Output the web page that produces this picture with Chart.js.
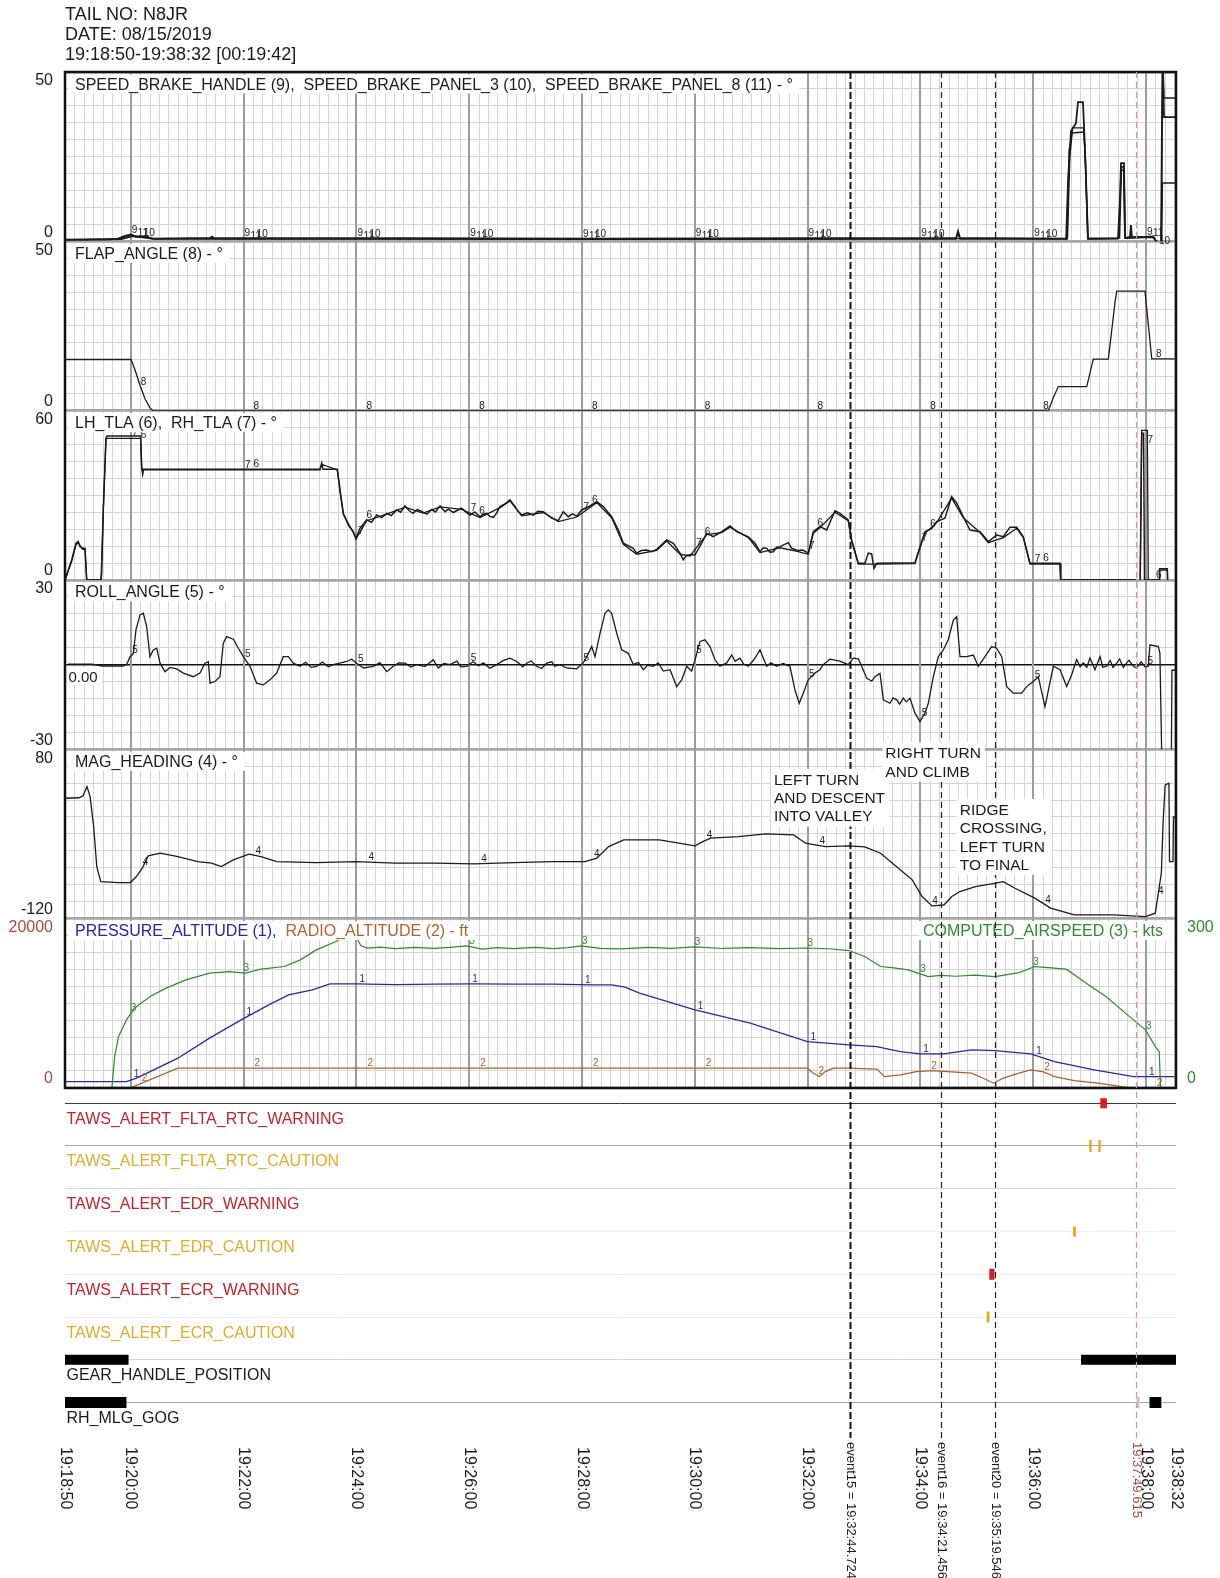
<!DOCTYPE html>
<html>
<head>
<meta charset="utf-8">
<title>N8JR flight data 08/15/2019</title>
<script src="https://cdn.jsdelivr.net/npm/chart.js@4.4.1/dist/chart.umd.min.js"></script>
<style>
  html, body { margin: 0; padding: 0; background: #fff; }
  #wrap { position: relative; width: 1220px; height: 1578px; }
  #fdr { position: absolute; left: 0; top: 0; }
  #head { position: absolute; left: 65px; top: 4px; font: 18px/20px "Liberation Sans", Arial, sans-serif; color: #1b1b1b; }
</style>
</head>
<body>
<div id="wrap">
  <canvas id="fdr" width="1220" height="1578"></canvas>
  <div id="head">TAIL NO: N8JR<br>DATE: 08/15/2019<br>19:18:50-19:38:32 [00:19:42]</div>
</div>
<script>
// seconds after 19:18:50
const spanSec = 1182;
const tickSec = [0, 70, 190, 310, 430, 550, 670, 790, 910, 1030, 1150, 1182];
const tickText = ['19:18:50', '19:20:00', '19:22:00', '19:24:00', '19:26:00', '19:28:00', '19:30:00',
  '19:32:00', '19:34:00', '19:36:00', '19:38:00', '19:38:32'];
const majorSec = tickSec.slice(1, -1);

const eventSec = [834.724, 931.456, 989.546, 1139.615];
const eventText = ['event15 = 19:32:44.724', 'event16 = 19:34:21.456', 'event20 = 19:35:19.546', '19:37:49.615'];

// [seconds, value]
const sbHandle = [[0,0.5],[47.9,0.6],[56.4,0.8],[63.8,1.6],[70.2,2.0],[75.5,1.3],[87.2,1.4],[92.6,0.8],[154.3,1.0],
  [156.4,1.4],[158.5,0.9],[356.4,0.9],[569.2,0.8],[782,0.9],[948,1.0],[950.1,3.0],[952.2,1.0],[1065.1,0.8],
  [1067.2,18.1],[1070.3,32.6],[1075.6,34.9],[1077.7,41.1],[1083,41.1],[1084.1,34.3],[1086.3,18.1],[1088.4,0.7],
  [1120.3,0.8],[1122.4,12.2],[1123.5,23.1],[1126.7,23.1],[1127.8,1.0],[1133,1.3],[1134.1,4.8],[1135.1,1.3],
  [1157.5,1.3],[1162.8,-0.5],[1166,-1.7],[1167.1,35.8],[1168.1,53.5],[1169.2,36.7],[1182,36.7]];
const sbPanel3 = [[0,0.4],[60,0.6],[72,1.5],[95,0.7],[300,0.7],[600,0.6],[948,0.7],[950,2.5],[952,0.7],
  [1066.1,0.7],[1068.3,27],[1071.4,32],[1084.1,32.3],[1085.2,27],[1088.4,0.7],[1121,0.9],[1123.5,21],
  [1126.7,21],[1128,0.9],[1158,1.2],[1162.8,-1.1],[1166.5,-2.6],[1167.6,17.2],[1182,17.2]];
const sbPanel8 = [[0,0.5],[60,0.8],[70,1.8],[95,0.8],[300,0.8],[600,0.7],[948,0.8],[1066.6,0.8],[1069,25],
  [1072,33.5],[1083.6,33.5],[1085.5,25],[1088,0.9],[1122,1],[1124,22],[1126.2,22],[1127.5,1],[1158,1.5],
  [1163,-1.5],[1166.5,-3],[1167.5,53],[1169.2,42.3],[1182,42.3]];

const flapAngle = [[0,15.1],[70.2,15.1],[74.5,12],[79.8,7.5],[85.1,3.5],[90.4,0.8],[93.6,0],[1046.2,0],
  [1051.5,3.9],[1056.8,7.1],[1087,7.1],[1094,15.2],[1110,15.2],[1112.9,22],[1117.1,32],[1119,35.3],
  [1149,35.3],[1156.2,15.3],[1182,15.3]];

const lhTla = [[0,0],[3.5,3.5],[7.1,7.1],[11.7,13],[14.1,13.6],[16,11.8],[18.8,11.2],[21.3,11.2],[23.1,0],
  [38.3,0],[39,2],[40.7,24.8],[43.6,50.2],[44.7,51],[80.5,51],[81.6,39.6],[82.7,37.5],[83.5,39.2],[271.3,39.2],
  [273.1,41.4],[274.5,39.2],[289.7,39.2],[292.6,31.9],[296.1,23.6],[301.4,19.5],[306.7,17.1],[309.6,14.8],
  [313.8,18.3],[321,21.3],[326,20.4],[331.6,23],[337,22.1],[342.3,23.6],[347,22.8],[352.9,24.8],[357,24],
  [361.7,26.2],[366,24.6],[370.2,23.6],[375,25],[380.9,24],[385,23.3],[390.1,25],[394,24.1],[399,26.2],
  [404.3,24.2],[408,25.1],[413.1,23.9],[417,24.6],[422,25.4],[426,24.2],[430.9,23],[436,24.1],[441.5,22.4],
  [445,23.2],[448.7,23.6],[452,22.5],[455.7,22.2],[459,23.6],[462.8,26],[468,26.9],[473.4,28.4],[478.8,26],
  [482,24.3],[485.9,23],[492,23.8],[498.2,23],[503,24.3],[508.9,24.2],[513,23.1],[517.8,21.9],[524.8,21],
  [530.1,24.2],[535.5,22.4],[540,23.4],[544.4,22.6],[549.7,24.8],[558.5,26.2],[565.7,27.7],[572.7,26],[581.6,22.4],
  [588.7,17.7],[594,13],[604.6,11.2],[608.2,9.5],[613,10.4],[618.9,10.6],[624,10],[629.5,10.8],[640.1,14.2],
  [647.2,13],[654.3,9.5],[657.8,7.1],[661,8.6],[664.9,8.9],[670.3,8.9],[677.4,13],[682.7,16.5],[689.7,15.3],
  [698.7,17.1],[707.5,19.1],[714.6,17.1],[727,15.3],[734.1,13],[739.4,10],[743,11.4],[746.5,11.2],[750,9.8],
  [753.6,10],[757,11.6],[760.7,11.8],[769.5,13.2],[773.1,11.2],[780.1,10.4],[785,10.6],[790.8,9.5],
  [796.1,17.1],[803.2,18.9],[810.4,17.7],[819.2,24.5],[824.5,23.6],[833.3,21.3],[836.9,14.2],[844,5.9],
  [851.1,5.9],[854.6,9.5],[858.2,9.2],[860.7,4.1],[863.6,5.9],[904.3,6.1],[909.6,11.8],[914.9,17.1],
  [922.1,18.3],[927.4,20.7],[936.2,21.9],[943.3,29.5],[948.7,27.2],[955.7,22.4],[962.8,17.7],[973.5,17.1],
  [982.3,13.6],[991.3,15.9],[998.3,15.3],[1005.4,18.7],[1012.5,18.7],[1019.5,15.3],[1026.7,5.9],[1058.6,5.9],
  [1059.3,0],[1138.4,0],[1140.2,-7.7],[1143.7,-7.7],[1145.5,52],[1147.5,52],[1148.5,0],[1164,0],[1164.5,3.5],
  [1172.8,3.5],[1173.6,-7.7],[1182,-7.7]];
const rhTla = [[0,0],[7.1,6.5],[11.7,12.5],[14.1,13.2],[18.8,10.8],[21.3,10.8],[23.1,0],[38.3,0],[40.7,24],
  [43.6,50.2],[80.5,50.2],[81.6,39.4],[83.5,39],[271.3,39],[273.1,41],[289.7,39],[292.6,31.5],[296.1,23.2],
  [306.7,16.8],[309.6,14.5],[321,21],[342.3,23.3],[361.7,25.8],[380.9,23.7],[399,25.9],[422,25],[441.5,22.1],
  [462.8,25.6],[473.4,28],[485.9,22.7],[508.9,23.9],[524.8,20.7],[544.4,22.3],[565.7,27.4],[581.6,22],
  [594,12.6],[608.2,9.1],[629.5,10.5],[640.1,13.8],[654.3,9.1],[664.9,8.5],[682.7,16.1],[698.7,16.8],
  [707.5,18.7],[727,15],[739.4,9.7],[760.7,11.4],[780.1,10],[790.8,9.1],[796.1,16.5],[803.2,18.5],[819.2,24],
  [833.3,21],[836.9,13.8],[844,5.6],[863.6,5.6],[904.3,5.8],[909.6,11.3],[914.9,16.5],[927.4,20.3],[943.3,29],
  [955.7,22],[973.5,16.8],[982.3,13.2],[998.3,15],[1012.5,18.3],[1019.5,15],[1026.7,5.6],[1058.6,5.6],
  [1059.3,0],[1138.4,0],[1140.2,-7.7],[1143.7,-7.7],[1145.5,53],[1151.5,53],[1152.5,0],[1164,0],[1164.5,4],
  [1172.8,4],[1173.6,-7.7],[1182,-7.7]];

const rollAngle = [[3.2,0.2],[28.7,0.2],[39.4,-0.5],[61.7,-0.5],[65.6,0],[69.2,2.8],[72.7,3.9],[75.5,12.3],
  [79.8,17.6],[83.3,18.2],[86.9,13.5],[90.4,2.8],[93.9,5.2],[97.6,5.8],[101.1,0.5],[106.4,-2.5],[111.7,-1],
  [118.8,-1.5],[125.9,-3],[136.5,-4.3],[143.6,-3],[148.9,0.5],[152.5,1],[154.3,-6.6],[159.6,-6],[164.9,-4.3],
  [168.4,7.6],[172,9.9],[179.1,9],[184.4,5.8],[189.7,2.8],[196.8,-0.6],[203.9,-6.6],[211,-7.2],[218.1,-5.4],
  [225.2,-3],[232.2,2.8],[237.6,2.8],[242.9,0.5],[250,-0.6],[256,0.8],[262,-1],[267.8,-0.6],[274,0.9],
  [280,-0.8],[285.4,0],[299.7,1.1],[305,1.9],[310.3,0.5],[317.4,-1.2],[328,-0.6],[335,0.7],[342.3,-2.5],
  [349.3,-0.6],[355,0.6],[361.7,0.5],[368,-0.9],[374.2,0],[383,-0.7],[391.8,1.7],[397.2,-1.2],[403,0.4],
  [409.6,0],[417,1.2],[421,-0.8],[427.4,-0.6],[434,1],[440,-0.4],[445,0.6],[452,-1.3],[459.3,0],[466,1.4],
  [473.4,2.3],[480.6,1.1],[487,-0.8],[491.2,0.5],[496,1.3],[501.8,-0.6],[507,-1.4],[512.5,0.5],[518,1],
  [521,-0.6],[526.6,0],[533.8,-1.2],[544.4,-1.5],[551.4,0.6],[556.7,3.9],[560.4,6.4],[563.9,2.8],
  [569.2,11.1],[574.5,18.2],[578,19.4],[581.6,18.2],[587,11.1],[592.3,5.2],[599.3,4],[604.6,0],[610,0.8],
  [615.3,-1.8],[620,-0.2],[625.9,-0.6],[631.2,0.6],[636.5,-2.3],[643.7,-1.8],[650.8,-7.8],[656.1,-5.4],
  [661.4,-0.6],[666.7,-2.3],[670.3,1.7],[675.6,8.2],[680.9,8.8],[686.2,6.4],[691.5,1.7],[696.8,-0.6],
  [704,0.6],[709.3,3.4],[713,1.2],[718.1,2.3],[722,0.2],[727,-0.6],[733,1.8],[739.4,5.2],[746.5,-0.6],
  [751,0.6],[757.2,-0.6],[764,0.4],[771.3,-0.6],[776.6,-9],[781.2,-13.7],[785.5,-10.1],[790.8,-5.4],
  [797.9,-3],[803.2,-1.8],[806.7,0],[813.9,1.9],[824.5,1.2],[833.3,0],[838.7,2.3],[844,2],[847.6,-0.6],
  [852.9,-4.8],[858.3,-5.9],[862,-4.2],[867.1,-3.1],[870.6,-12.5],[877.7,-13.7],[881,-11.8],[884.9,-12.5],
  [888,-14],[891.9,-11.9],[895,-13.2],[899,-11.9],[904.3,-17.2],[909.6,-20.2],[914.9,-17.2],[918.5,-13.7],
  [923.8,-4.3],[929.1,2.8],[934.4,5.2],[939.7,8.8],[945.1,15.8],[948.7,17],[952.2,2.8],[959.3,2.8],
  [966.3,3.4],[971.7,-0.6],[978.8,2.8],[985.9,6.4],[991.2,5.8],[996.6,2.8],[1001.9,-7.8],[1008.9,-10.1],
  [1017.8,-10.1],[1023.1,-7.8],[1030.2,-6],[1035.5,-4.3],[1042.6,-14.9],[1051.5,-0.6],[1058.6,-1.8],
  [1065.7,-7.8],[1071,-3.6],[1076.3,1.8],[1080,-0.8],[1083.4,0.6],[1087,-1],[1090.5,2.3],[1095.8,-1.8],
  [1101.2,2.8],[1104,-0.9],[1108.3,-0.6],[1112,1.5],[1115,-1],[1118.9,0.5],[1122,2],[1126,-1],[1129.5,0.6],
  [1132,1.5],[1136.6,-0.6],[1140,-1.2],[1145,1],[1149,-0.8],[1152.5,-0.6],[1154.3,7],[1163.2,6.4],
  [1164.9,4],[1166.7,-30],[1168.1,-56],[1176.6,-56],[1177.7,-2],[1182,-2]];

const magHeading = [[0,22.1],[14.9,22.7],[19.1,24.9],[23.4,35.9],[26.7,24],[30.5,-11.4],[33.8,-58.6],
  [38.1,-76.3],[57,-77.5],[69.6,-77.5],[76,-70.4],[82.2,-60.5],[88.5,-46],[101.2,-42.8],[120.1,-46.8],
  [141.1,-52.7],[155.9,-54.6],[166.3,-58.6],[179,-50.7],[195.8,-44],[208.4,-46.8],[225.2,-52.7],
  [267.3,-53.9],[309.3,-52.7],[351.4,-54.6],[393.4,-54.6],[435.5,-55.4],[477.5,-53.9],[519.6,-52.7],
  [553.2,-52.7],[565.8,-48.7],[578.4,-35],[590.3,-29.1],[594.4,-27.1],[632.3,-27.1],[653.2,-31],
  [670.2,-34.2],[678.6,-29.1],[687,-25.1],[716.3,-23.2],[745.8,-20],[775.3,-21.2],[787.8,-31],[808.9,-35],
  [834.1,-34.2],[850.9,-35.4],[867.7,-42.8],[884.5,-58.6],[901.4,-74.3],[911.9,-94],[922.4,-105],
  [935.1,-104],[943.5,-94],[951.9,-88.1],[968.7,-82.2],[985.5,-79.1],[998.2,-76.3],[1010.7,-84.2],
  [1031.8,-95.9],[1048.6,-107.7],[1073.8,-115.6],[1115.8,-115.6],[1149.5,-117.6],[1160,-113.6],
  [1162.1,-97.9],[1166.4,-66.4],[1168.4,-3.5],[1170.5,37.9],[1174.5,39.9],[1175.1,-52.7],[1178.8,-52.7],
  [1179.3,0],[1182,0]];

const pressureAlt = [[0,744],[65.4,744],[76,1146],[90.6,1925],[120.1,3508],[153.7,5871],[187.4,8033],
  [216.8,9805],[237.8,10986],[263.1,11577],[281.9,12286],[309.3,12286],[351.4,12208],[393.4,12247],
  [435.5,12286],[477.5,12247],[519.6,12247],[561.6,12168],[581.9,12168],[595.8,11900],[611.2,11187],
  [670.2,9214],[729,7643],[789.9,5469],[834.1,5080],[863.6,4883],[888.8,4289],[909.8,4016],[935.1,4016],
  [964.4,4489],[989.7,4410],[1027.5,4016],[1052.7,3107],[1094.9,2126],[1136.9,1335],[1182,1335]];
const radioAlt = [[0,0],[69.6,0],[120.1,2327],[789.9,2327],[796.2,1736],[802.6,1335],[808.9,1925],
  [817.3,2327],[834.1,2327],[863.6,2209],[872,1335],[888.8,1536],[905.6,1925],[922.4,2044],[939.2,1925],
  [964.4,1736],[977.1,1146],[987.6,555],[998.2,1146],[1014.9,1736],[1027.5,2126],[1040.2,1925],
  [1052.7,1335],[1073.8,866],[1099,555],[1124.2,154],[1132.6,0],[1182,0]];
const airspeed = [[0,0],[49.9,0],[52.8,55.5],[57,91],[65.4,120.5],[73.8,141.2],[90.6,161.8],[107.5,176.7],
  [128.5,191.4],[153.7,203.3],[174.7,206.1],[191.6,203.3],[208.4,210.3],[233.6,215],[250.4,226.8],
  [267.3,244.5],[288.3,259.3],[296.7,268.1],[307.8,272.9],[314.9,251.6],[321.9,247.6],[336,249.5],
  [351.4,246.8],[372,249],[393.4,247.2],[410,248.8],[427,251.6],[443.8,245.8],[460,248.5],[477.5,246.6],
  [500,248.8],[519.6,246.8],[535,248.6],[549,251.6],[569.2,247.2],[590,246.2],[622.4,249],[645,247.2],
  [670.2,249.8],[700,247],[728.8,248.6],[760,246.8],[789.9,247.8],[812,246.5],[834.1,243.3],[850.9,232.7],
  [867.7,215],[882,212.5],[897.2,209.1],[918.3,197.2],[932,199.5],[947.6,197.8],[968,199.6],[989.7,197.2],
  [1014.9,204.3],[1031.8,215],[1046,213.2],[1065.4,210.3],[1086.5,185.5],[1107.4,161.8],[1132.6,126.3],
  [1149.5,102.8],[1160,73.2],[1164.2,64.3],[1165.5,0],[1182,0]];

// discrete tracks: [start, end] seconds
const trackNames = ['TAWS_ALERT_FLTA_RTC_WARNING', 'TAWS_ALERT_FLTA_RTC_CAUTION', 'TAWS_ALERT_EDR_WARNING',
  'TAWS_ALERT_EDR_CAUTION', 'TAWS_ALERT_ECR_WARNING', 'TAWS_ALERT_ECR_CAUTION', 'GEAR_HANDLE_POSITION', 'RH_MLG_GOG'];
const fltaWarn = [[1101.5, 1108.5]];
const fltaCaut = [[1089.7, 1092.2], [1099.4, 1101.9]];
const edrWarn = [];
const edrCaut = [[1072.5, 1075.5]];
const ecrWarn = [[983.4, 988.9]];
const ecrCaut = [[980.6, 983.6]];
const gearHandle = [[0, 67.6], [1081, 1182]];
const mlgGog = [[0, 65.4], [1153.8, 1166.4]];
const mlgGogFlicker = [[1139.9, 1143.2]];

// ---- styling / layout ----
const FONT = '"Liberation Sans", Arial, sans-serif';
const INK = '#1b1b1b';
const BLUE = '#2a2a9e', BROWN = '#ab5f35', GREEN = '#2e8b2e', WARN = '#c3242c', CAUT = '#e0ad2a';
const PANEL_H = 169.33, TRACK_H = 42.77, TRACK_BASE = 15.3;
const trackLine = ['#3a3a3a', '#a8a8a8', '#d6d6d6', '#eeeeee', '#ececec', '#eeeeee', '#d8d8d8', '#a8a8a8'];
const trackColor = [WARN, CAUT, WARN, CAUT, WARN, CAUT, INK, INK];

const pts = list => list.map(([t, v]) => ({ x: t, y: v }));
const spans = list => {
  const out = [];
  list.forEach(([a, b]) => out.push({ x: a, y: 0 }, { x: b, y: 0 }, { x: b, y: null }));
  return out;
};

function trace(list, axis, color, width, tag, tagDx, tagDy) {
  return { data: pts(list), yAxisID: axis, borderColor: color, borderWidth: width, pointRadius: 0,
    tension: 0, fill: false, tag, tagDx, tagDy: tagDy || 0 };
}
function marks(list, k, color, h) {
  return { data: spans(list), yAxisID: 'k' + k, borderColor: color, borderWidth: h, borderCapStyle: 'butt',
    pointRadius: 0, spanGaps: false, fill: false };
}

const datasets = [
  trace(sbHandle, 'ySb', INK, 1.8, '9', 1),
  trace(sbPanel8, 'ySb', INK, 1.4, '11', 7, 2),
  trace(sbPanel3, 'ySb', INK, 1.4, '10', 13),
  trace(flapAngle, 'yFlap', INK, 1.3, '8', 10),
  trace(rhTla, 'yTla', INK, 1.3, '7', 1.5),
  trace(lhTla, 'yTla', INK, 1.5, '6', 10),
  trace(rollAngle, 'yRoll', INK, 1.3, '5', 1.5),
  trace(magHeading, 'yHdg', INK, 1.3, '4', 12),
  trace(airspeed, 'rAir', GREEN, 1.2, '3', 0),
  trace(pressureAlt, 'yAlt', BLUE, 1.3, '1', 3),
  trace(radioAlt, 'yAlt', BROWN, 1.2, '2', 11),
  marks(fltaWarn, 0, '#e4161e', 10),
  marks(fltaCaut, 1, '#e6a81c', 12),
  marks(edrWarn, 2, '#e4161e', 11),
  marks(edrCaut, 3, '#e6a81c', 10),
  marks(ecrWarn, 4, '#d01e26', 11),
  marks(ecrCaut, 5, '#e6a81c', 11),
  marks(gearHandle, 6, '#000', 10),
  marks(mlgGogFlicker, 7, '#c4c4c4', 11),
  marks(mlgGog, 7, '#000', 11)
];

function panelAxis(min, max, color, zero) {
  return {
    type: 'linear', position: 'left', stack: 'left', stackWeight: PANEL_H, min, max,
    afterFit: s => { s.width = 65; },
    border: { display: false },
    grid: {
      drawTicks: false,
      color: c => {
        const last = c.scale.ticks.length - 1;
        if (c.index === 0 || c.index === last) return '#a6a6a6';
        if (zero && c.tick.value === 0) return '#111';
        return '#d5d5d5';
      },
      lineWidth: c => {
        const last = c.scale.ticks.length - 1;
        if (c.index === 0 || c.index === last) return 2.5;
        if (zero && c.tick.value === 0) return 1.5;
        return 1;
      }
    },
    ticks: {
      stepSize: (max - min) / 10, autoSkip: false, padding: 12, color: color || INK,
      font: { family: FONT, size: 16, lineHeight: 1.125 },
      callback: (v, i, arr) => i === 0 ? [String(v), ''] : (i === arr.length - 1 ? ['', String(v)] : '')
    }
  };
}

const scales = { x: { type: 'linear', min: 0, max: spanSec, display: false } };
// left stack is laid out bottom-up
for (let k = trackNames.length - 1; k >= 0; k--) {
  scales['k' + k] = {
    type: 'linear', position: 'left', stack: 'left', stackWeight: TRACK_H,
    min: -(TRACK_H - TRACK_BASE), max: TRACK_BASE,
    afterBuildTicks: s => { s.ticks = [{ value: 0 }]; },
    afterFit: s => { s.width = 65; },
    ticks: { display: false },
    grid: { color: trackLine[k], lineWidth: 1, drawTicks: false },
    border: { display: false }
  };
}
scales.yAlt = panelAxis(0, 20000, '#a94b3a');
scales.yHdg = panelAxis(-120, 80);
scales.yRoll = panelAxis(-30, 30, INK, true);
scales.yTla = panelAxis(0, 60);
scales.yFlap = panelAxis(0, 50);
scales.ySb = panelAxis(0, 50);
// right stack is laid out top-down
scales.rTop = { type: 'linear', position: 'right', stack: 'right', stackWeight: 5 * PANEL_H, display: false,
  afterFit: s => { s.width = 44; } };
scales.rAir = {
  type: 'linear', position: 'right', stack: 'right', stackWeight: PANEL_H, min: 0, max: 300,
  afterFit: s => { s.width = 44; },
  border: { display: false },
  grid: { drawOnChartArea: false, drawTicks: false },
  ticks: { stepSize: 300, autoSkip: false, padding: 11, color: GREEN,
    font: { family: FONT, size: 16, lineHeight: 1.125 },
    callback: (v, i, arr) => i === 0 ? [String(v), ''] : (i === arr.length - 1 ? ['', String(v)] : '') }
};
scales.rBot = { type: 'linear', position: 'right', stack: 'right', stackWeight: 8 * TRACK_H, display: false,
  afterFit: s => { s.width = 44; } };

const panelTitles = [
  { axis: 'ySb', parts: [['SPEED_BRAKE_HANDLE (9),  SPEED_BRAKE_PANEL_3 (10),  SPEED_BRAKE_PANEL_8 (11) - \u00b0', INK]] },
  { axis: 'yFlap', parts: [['FLAP_ANGLE (8) - \u00b0', INK]] },
  { axis: 'yTla', parts: [['LH_TLA (6),  RH_TLA (7) - \u00b0', INK]] },
  { axis: 'yRoll', parts: [['ROLL_ANGLE (5) - \u00b0', INK]] },
  { axis: 'yHdg', parts: [['MAG_HEADING (4) - \u00b0', INK]] },
  { axis: 'yAlt', parts: [['PRESSURE_ALTITUDE (1),', '#2626a6'], ['  RADIO_ALTITUDE (2) - ft', '#b2622f']],
    right: ['COMPUTED_AIRSPEED (3) - kts', GREEN] }
];
const notes = [
  { t: 754.3, v: 37.9, lines: ['LEFT TURN', 'AND DESCENT', 'INTO VALLEY'] },
  { t: 872.8, v: 69.4, lines: ['RIGHT TURN', 'AND CLIMB'] },
  { t: 951.9, v: 2.4, lines: ['RIDGE', 'CROSSING,', 'LEFT TURN', 'TO FINAL'] }
];
const eventStyle = [
  { color: '#111', width: 2, dash: [7, 3] },
  { color: '#222', width: 1.2, dash: [6, 4] },
  { color: '#222', width: 1.2, dash: [6, 4] },
  { color: '#cf9a9a', width: 1.2, dash: [6, 4], text: '#a4463c' }
];

function valueAt(data, t) {
  let prev = null;
  for (const p of data) {
    if (p.y === null) continue;
    if (p.x >= t) {
      if (!prev) return p.y;
      return prev.y + (t - prev.x) / ((p.x - prev.x) || 1) * (p.y - prev.y);
    }
    prev = p;
  }
  return prev ? prev.y : 0;
}

function rotatedText(ctx, text, x, y) {
  ctx.save();
  ctx.translate(x, y);
  ctx.rotate(Math.PI / 2);
  ctx.fillText(text, 0, 0);
  ctx.restore();
}

const decor = {
  id: 'decor',
  beforeDraw(chart) {
    const { ctx, scales: s } = chart;
    ctx.save();
    ctx.strokeStyle = '#d5d5d5';
    ctx.lineWidth = 1;
    ctx.beginPath();
    for (let t = 10; t < spanSec; t += 10) {
      const px = Math.round(s.x.getPixelForValue(t)) + 0.5;
      ctx.moveTo(px, s.ySb.top);
      ctx.lineTo(px, s.yAlt.bottom);
    }
    ctx.stroke();
    ctx.restore();
  },
  beforeDatasetsDraw(chart) {
    const { ctx, scales: s } = chart;
    ctx.save();
    ctx.strokeStyle = '#9c9c9c';
    ctx.lineWidth = 2;
    ctx.beginPath();
    majorSec.forEach(t => {
      const px = Math.round(s.x.getPixelForValue(t));
      ctx.moveTo(px, s.ySb.top);
      ctx.lineTo(px, s.yAlt.bottom);
    });
    ctx.stroke();
    ctx.restore();
  },
  afterDatasetsDraw(chart) {
    const { ctx, scales: s } = chart;
    const X = t => s.x.getPixelForValue(t);
    const left = s.x.left, right = s.x.right, top = s.ySb.top, bottom = s.yAlt.bottom;
    ctx.save();

    ctx.strokeStyle = '#111';
    ctx.lineWidth = 2.5;
    ctx.strokeRect(left, top, right - left, bottom - top);

    // little series numbers along the traces
    ctx.textAlign = 'left';
    ctx.textBaseline = 'alphabetic';
    chart.data.datasets.forEach(ds => {
      if (!ds.tag) return;
      const ys = s[ds.yAxisID];
      ctx.font = '10px ' + FONT;
      ctx.fillStyle = ds.borderColor;
      majorSec.forEach(T => {
        const px = X(T) + ds.tagDx;
        const py = ys.getPixelForValue(valueAt(ds.data, s.x.getValueForPixel(px)));
        ctx.fillText(ds.tag, px, py - 2 + ds.tagDy);
      });
    });

    // panel titles on white boxes
    ctx.font = '16px ' + FONT;
    panelTitles.forEach(p => {
      const y0 = s[p.axis].top;
      let w = 0;
      p.parts.forEach(([txt]) => { w += ctx.measureText(txt).width; });
      ctx.fillStyle = '#fff';
      ctx.fillRect(left + 3, y0 + 2.5, w + 14, 19);
      let x = left + 10;
      p.parts.forEach(([txt, col]) => {
        ctx.fillStyle = col;
        ctx.fillText(txt, x, y0 + 17.5);
        x += ctx.measureText(txt).width;
      });
      if (p.right) {
        const rw = ctx.measureText(p.right[0]).width;
        ctx.fillStyle = '#fff';
        ctx.fillRect(right - 17 - rw, y0 + 2.5, rw + 14, 19);
        ctx.fillStyle = p.right[1];
        ctx.fillText(p.right[0], right - 13 - rw, y0 + 17.5);
      }
    });

    // roll zero value
    const z = s.yRoll.getPixelForValue(0);
    ctx.fillStyle = '#fff';
    ctx.fillRect(left + 2, z + 3, 34, 17);
    ctx.fillStyle = INK;
    ctx.font = '15px ' + FONT;
    ctx.fillText('0.00', left + 3.5, z + 17);

    // event markers
    eventSec.forEach((t, i) => {
      const st = eventStyle[i];
      const px = Math.round(X(t)) + 0.5;
      ctx.strokeStyle = st.color;
      ctx.lineWidth = st.width;
      ctx.setLineDash(st.dash);
      ctx.beginPath();
      ctx.moveTo(px, top);
      ctx.lineTo(px, s.x.bottom + 8);
      ctx.stroke();
    });
    ctx.setLineDash([]);

    // annotations
    ctx.font = '15.5px ' + FONT;
    notes.forEach(n => {
      const x = X(n.t), y = s.yHdg.getPixelForValue(n.v);
      const w = Math.max(...n.lines.map(l => ctx.measureText(l).width));
      ctx.fillStyle = '#fff';
      ctx.fillRect(x - 3, y - 16, w + 7, (n.lines.length - 1) * 18.3 + 21);
      ctx.fillStyle = INK;
      n.lines.forEach((l, i) => ctx.fillText(l, x, y + i * 18.3));
    });

    // discrete track names
    ctx.font = '16px ' + FONT;
    trackNames.forEach((name, k) => {
      ctx.fillStyle = trackColor[k];
      ctx.fillText(name, left + 1.5, s['k' + k].getPixelForValue(0) + 20.5);
    });

    // time axis, rotated
    ctx.textBaseline = 'middle';
    ctx.fillStyle = INK;
    tickSec.forEach((t, i) => rotatedText(ctx, tickText[i], X(t), s.x.bottom + 17));
    ctx.font = '13px ' + FONT;
    eventSec.forEach((t, i) => {
      ctx.fillStyle = eventStyle[i].text || INK;
      rotatedText(ctx, eventText[i], Math.round(X(t)) + 0.5, s.x.bottom + 12);
    });
    ctx.restore();
  }
};

new Chart(document.getElementById('fdr'), {
  type: 'line',
  data: { datasets },
  options: {
    responsive: false,
    animation: false,
    events: [],
    layout: { padding: { top: 72, bottom: 148, left: 0, right: 0 } },
    plugins: { legend: { display: false }, tooltip: { enabled: false } },
    scales
  },
  plugins: [decor]
});
</script>
</body>
</html>
